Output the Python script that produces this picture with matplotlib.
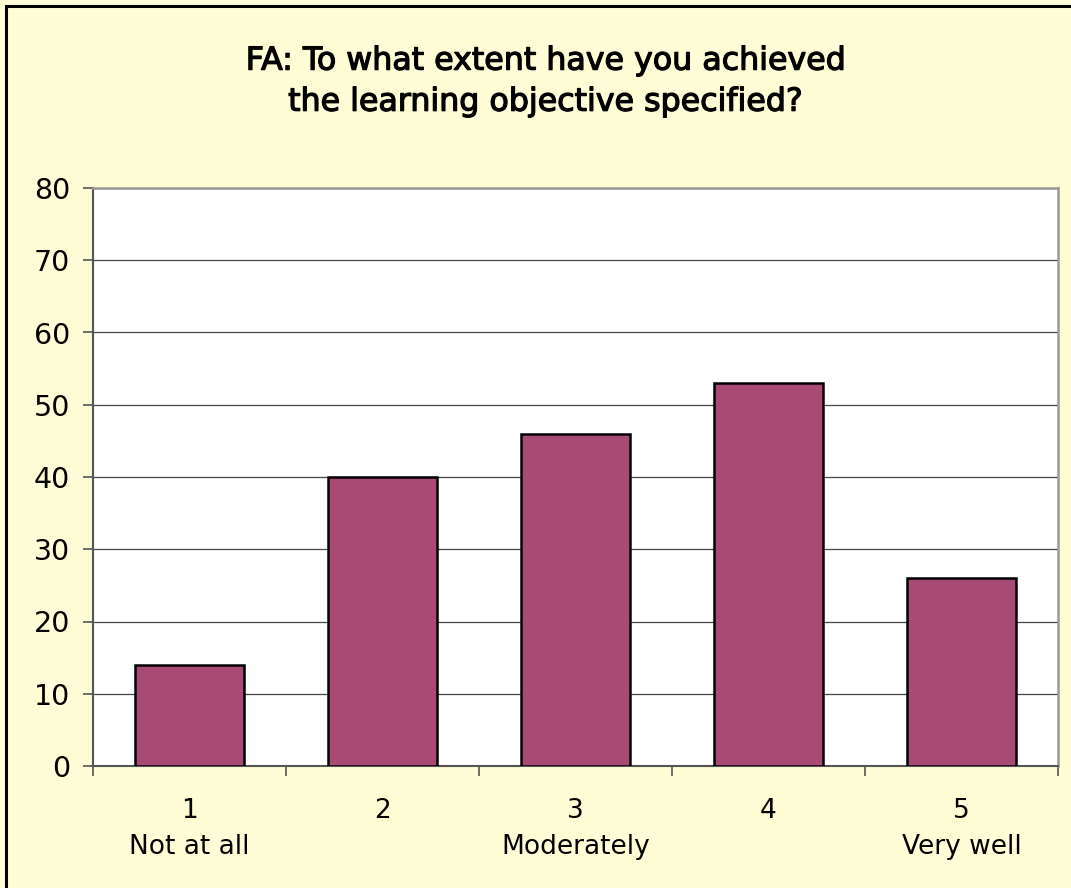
import matplotlib.pyplot as plt
import matplotlib.patheffects as pe
import numpy as np
from matplotlib.patches import Rectangle

# Data
categories = ['1\nNot at all', '2', '3\nModerately', '4', '5\nVery well']
counts = [14, 40, 46, 53, 26]
title = 'FA: To what extent have you achieved\nthe learning objective specified?'

bg = '#FFFDD6'
bar_color = '#A94A76'

fig = plt.figure(figsize=(10.71, 8.88), dpi=100, facecolor=bg)
ax = fig.add_axes([93 / 1071, 122 / 888, 965 / 1071, 578 / 888])
ax.set_facecolor('white')

x = np.arange(len(counts))
ax.bar(x, counts, width=0.56, color=bar_color, edgecolor='black', linewidth=1.8, zorder=3)

ax.set_xlim(-0.5, len(counts) - 0.5)
ax.set_ylim(0, 80)
ax.set_yticks(range(0, 81, 10))
ax.yaxis.grid(True, color='#444444', linewidth=0.9, zorder=1)

# x labels at bar centres, tick marks at category boundaries
ax.set_xticks(x)
ax.set_xticklabels(categories, fontsize=19, linespacing=1.5)
ax.set_xticks(np.arange(-0.5, len(counts)), minor=True)
ax.tick_params(axis='x', which='major', length=0, pad=23)
ax.tick_params(axis='x', which='minor', length=7, width=1.2, color='#555555')
ax.tick_params(axis='y', length=7, width=1.2, color='#555555', labelsize=20.5, pad=9.5)

for side in ['left', 'bottom']:
    ax.spines[side].set_color('#555555')
    ax.spines[side].set_linewidth(1.5)
for side in ['top', 'right']:
    ax.spines[side].set_color('#999999')
    ax.spines[side].set_linewidth(1.8)

fig.text(0.509, 0.908, title, ha='center', va='center', fontsize=22.8,
         linespacing=1.42,
         path_effects=[pe.withStroke(linewidth=0.9, foreground='black')])

# outer chart border (cut off at right and bottom in the source)
fig.patches.append(Rectangle((6 / 1071, -0.05), 1.2, (882 / 888) + 0.05,
                             transform=fig.transFigure, fill=False,
                             edgecolor='black', linewidth=2.2))

fig.savefig('out.png', dpi=100, facecolor=bg)
